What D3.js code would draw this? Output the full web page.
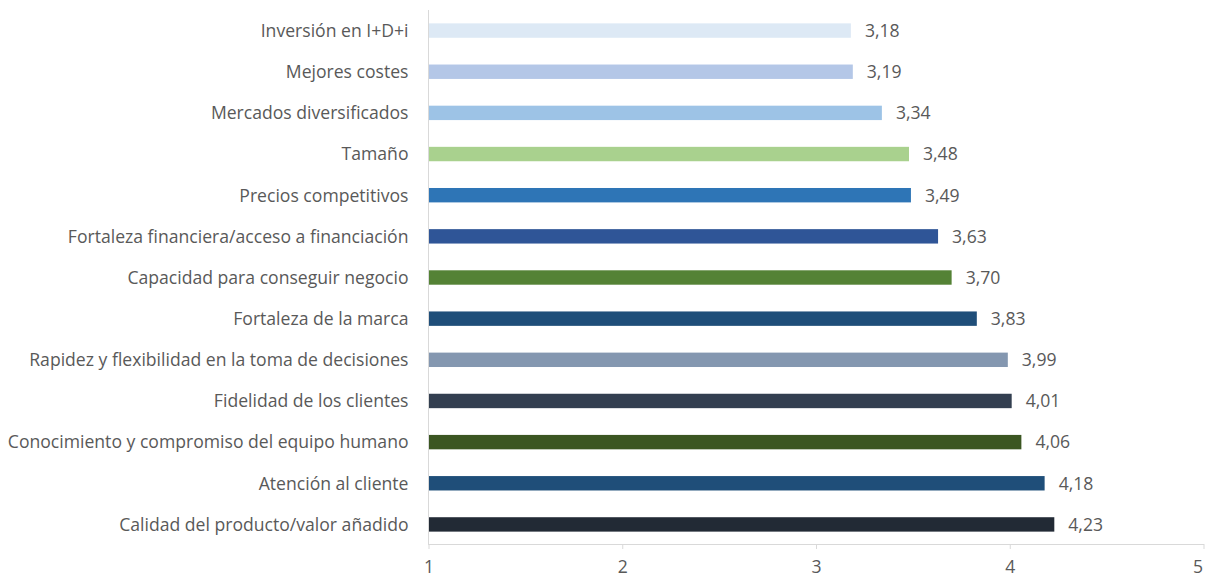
<!DOCTYPE html>
<html><head><meta charset="utf-8">
<script src="https://cdn.jsdelivr.net/npm/d3@7"></script>
<style>body{margin:0;background:#fff}svg{display:block}text{font-family:"Open Sans",sans-serif;fill:#595959}</style>
</head><body><svg id="c" width="1206" height="579"></svg>
<script>
const categories = ["Inversión en I+D+i","Mejores costes","Mercados diversificados","Tamaño","Precios competitivos","Fortaleza financiera/acceso a financiación","Capacidad para conseguir negocio","Fortaleza de la marca","Rapidez y flexibilidad en la toma de decisiones","Fidelidad de los clientes","Conocimiento y compromiso del equipo humano","Atención al cliente","Calidad del producto/valor añadido"];
const values = [3.18,3.19,3.34,3.48,3.49,3.63,3.70,3.83,3.99,4.01,4.06,4.18,4.23];
const colors = ["#dde9f5","#b4c7e7","#9dc3e6","#a9d18e","#2e75b6","#2f5597","#548235","#1f4e79","#8497b0","#333f50","#3b5622","#1f4e79","#222a35"];
const xTicks = [1,2,3,4,5];

const svg = d3.select("#c");
const x = d3.scaleLinear().domain([1,5]).range([428.5,1203.5]);
const y = d3.scaleBand().domain(categories).range([10,545]).paddingInner(0.65).paddingOuter(0.325);
const fmt = v => v.toFixed(2).replace(".",",");

svg.append("g").selectAll("rect").data(categories).join("rect")
  .attr("x", x(1)).attr("y", d=>y(d)).attr("height", y.bandwidth())
  .attr("width", (d,i)=>x(values[i])-x(1)).attr("fill",(d,i)=>colors[i]);

svg.append("g").selectAll("text").data(categories).join("text")
  .attr("x", (d,i)=>x(values[i])+14).attr("y", d=>y(d)+y.bandwidth()/2).attr("dy","0.36em")
  .attr("font-size",17.6).text((d,i)=>fmt(values[i]));

const yAxis = svg.append("g").attr("transform",`translate(${x(1)},0)`)
  .call(d3.axisLeft(y).tickSize(0).tickPadding(20));
yAxis.select(".domain").attr("stroke","#d9d9d9").attr("d","M0,10V545");
yAxis.selectAll("text").attr("font-size",17.6).attr("fill","#595959").attr("dy","0.36em");

const xAxis = svg.append("g").attr("transform","translate(0,544)")
  .call(d3.axisBottom(x).tickValues(xTicks).tickFormat(d=>d).tickSize(5).tickPadding(12).tickSizeOuter(0));
xAxis.select(".domain").attr("stroke","#d9d9d9");
xAxis.selectAll(".tick line").attr("stroke","#d9d9d9");
xAxis.selectAll("text").attr("font-size",17.6).attr("fill","#595959");
xAxis.selectAll(".tick").filter(d=>+d===5).select("text").style("text-anchor","end").attr("dx","-0.05em");
</script></body></html>
